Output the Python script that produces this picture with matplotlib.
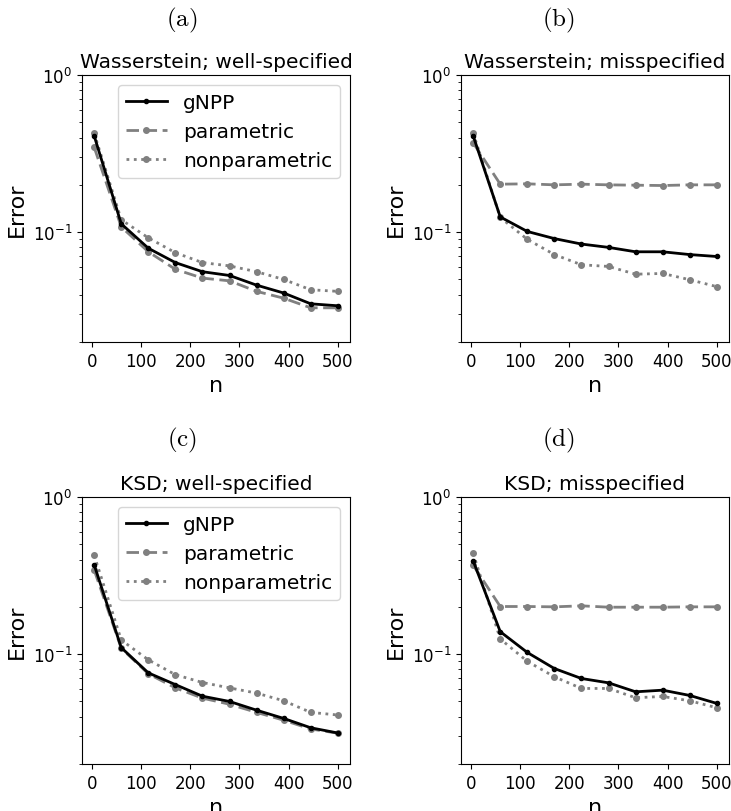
import matplotlib
matplotlib.use('Agg')
import matplotlib.pyplot as plt

plt.rcParams['mathtext.fontset'] = 'cm'

n = [5, 60, 115, 170, 225, 280, 335, 390, 445, 500]

# (a) Wasserstein; well-specified
wass_well_gnpp = [0.41, 0.113, 0.079, 0.064, 0.056, 0.053, 0.046, 0.041, 0.035, 0.034]
wass_well_par = [0.347, 0.108, 0.075, 0.058, 0.051, 0.049, 0.042, 0.038, 0.033, 0.033]
wass_well_nonpar = [0.426, 0.12, 0.092, 0.074, 0.064, 0.061, 0.056, 0.050, 0.043, 0.042]

# (b) Wasserstein; misspecified
wass_mis_gnpp = [0.41, 0.125, 0.101, 0.091, 0.084, 0.080, 0.075, 0.075, 0.072, 0.070]
wass_mis_par = [0.37, 0.202, 0.203, 0.200, 0.202, 0.200, 0.199, 0.198, 0.200, 0.200]
wass_mis_nonpar = [0.428, 0.124, 0.090, 0.072, 0.062, 0.0605, 0.054, 0.0546, 0.0498, 0.045]

# (c) KSD; well-specified
ksd_well_gnpp = [0.37, 0.110, 0.076, 0.064, 0.054, 0.050, 0.044, 0.039, 0.034, 0.0315]
ksd_well_par = [0.343, 0.109, 0.075, 0.061, 0.0525, 0.048, 0.0426, 0.038, 0.0334, 0.0314]
ksd_well_nonpar = [0.426, 0.123, 0.092, 0.074, 0.066, 0.061, 0.0565, 0.0505, 0.0426, 0.041]

# (d) KSD; misspecified
ksd_mis_gnpp = [0.392, 0.139, 0.1025, 0.081, 0.070, 0.0657, 0.0576, 0.059, 0.0546, 0.0486]
ksd_mis_par = [0.368, 0.201, 0.201, 0.200, 0.203, 0.199, 0.199, 0.199, 0.200, 0.200]
ksd_mis_nonpar = [0.438, 0.125, 0.090, 0.0718, 0.0605, 0.0605, 0.0528, 0.0538, 0.0505, 0.0456]

panels = [
    ('(a)', 'Wasserstein; well-specified', wass_well_gnpp, wass_well_par, wass_well_nonpar, True),
    ('(b)', 'Wasserstein; misspecified', wass_mis_gnpp, wass_mis_par, wass_mis_nonpar, False),
    ('(c)', 'KSD; well-specified', ksd_well_gnpp, ksd_well_par, ksd_well_nonpar, True),
    ('(d)', 'KSD; misspecified', ksd_mis_gnpp, ksd_mis_par, ksd_mis_nonpar, False),
]

W, H = 731, 812
fig = plt.figure(figsize=(W / 100, H / 100), dpi=100)

# axes boxes in pixels: left, top
boxes = [(82, 76), (461, 76), (82, 498), (461, 498)]
label_pos = [(182, 20), (558, 20), (182, 440), (558, 440)]
aw, ah = 268, 267

for (lab, title, g, p, npar, show_leg), (l, t), (lx, ly) in zip(panels, boxes, label_pos):
    ax = fig.add_axes([l / W, 1 - (t + ah) / H, aw / W, ah / H])
    ax.plot(n, g, color='black', lw=2, marker='o', ms=3, label='gNPP', zorder=3)
    ax.plot(n, p, color='gray', lw=2, ls=(0, (4.5, 2)), marker='o', ms=4, label='parametric')
    ax.plot(n, npar, color='gray', lw=2, ls=':', marker='o', ms=4, label='nonparametric')
    ax.set_yscale('log')
    ax.set_ylim(0.02, 1)
    ax.set_xticks([0, 100, 200, 300, 400, 500])
    ax.tick_params(labelsize=12)
    ax.set_title(title, fontsize=14.5)
    ax.set_xlabel('n', fontsize=16)
    ax.set_ylabel('Error', fontsize=16)
    if show_leg:
        ax.legend(loc='upper right', fontsize=14.5)
    fig.text(lx / W, 1 - ly / H, r'$\mathrm{' + lab + '}$', ha='center', va='center', fontsize=18)

fig.savefig('out.png', dpi=100)
